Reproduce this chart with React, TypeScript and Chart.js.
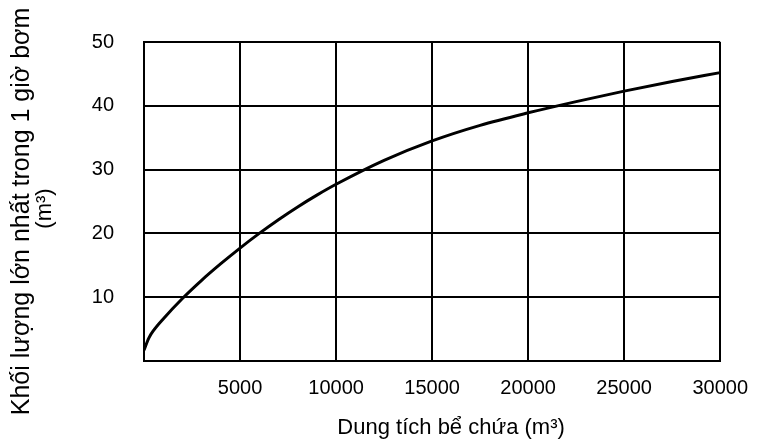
import React, { useEffect, useRef } from "react";
import { Chart, registerables } from "chart.js";

Chart.register(...registerables);

const capacity = [0, 250, 500, 1000, 2000, 3000, 4000, 5000, 6000, 7000, 8000, 9000, 10000, 12500, 15000, 17500, 20000, 22500, 25000, 27500, 30000];
const maxVolume = [1.7, 3.6, 4.8, 6.6, 9.8, 12.65, 15.25, 17.7, 20.0, 22.15, 24.15, 26.0, 27.7, 31.45, 34.5, 36.94, 38.9, 40.66, 42.3, 43.81, 45.2];
const xTitle = "Dung tích bể chứa (m³)";
const yTitleMain = "Khối lượng lớn nhất trong 1 giờ bơm";
const yTitleUnit = "(m³)";

const FONT = "'Liberation Sans', Arial, sans-serif";

const titlePlugin = {
  id: "titlePlugin",
  afterDraw(chart: any) {
    const ctx = chart.ctx;
    const area = chart.chartArea;
    ctx.save();
    ctx.fillStyle = "#000";
    ctx.textAlign = "center";
    ctx.textBaseline = "middle";
    ctx.font = `22px ${FONT}`;
    ctx.fillText(xTitle, (area.left + area.right) / 2 + 19, 428);
    const cy = (area.top + area.bottom) / 2 + 10;
    ctx.font = `25px ${FONT}`;
    ctx.save();
    ctx.translate(22, cy);
    ctx.rotate(-Math.PI / 2);
    ctx.fillText(yTitleMain, 0, 0);
    ctx.restore();
    ctx.font = `22px ${FONT}`;
    ctx.save();
    ctx.translate(45, cy - 3);
    ctx.rotate(-Math.PI / 2);
    ctx.fillText(yTitleUnit, 0, 0);
    ctx.restore();
    ctx.restore();
  },
};

export default function App() {
  const ref = useRef<HTMLCanvasElement | null>(null);
  useEffect(() => {
    if (!ref.current) return;
    const chart = new Chart(ref.current, {
      type: "line",
      data: {
        datasets: [
          {
            data: capacity.map((x, i) => ({ x, y: maxVolume[i] })),
            borderColor: "#000",
            borderWidth: 3,
            pointRadius: 0,
            cubicInterpolationMode: "monotone",
            fill: false,
          },
        ],
      },
      options: {
        animation: false,
        responsive: false,
        maintainAspectRatio: false,
        layout: { padding: { left: 0, right: 41, top: 39, bottom: 0 } },
        plugins: { legend: { display: false }, tooltip: { enabled: false } },
        scales: {
          x: {
            type: "linear",
            min: 0,
            max: 30000,
            afterFit: (s: any) => { s.height = 79; },
            border: { display: true, color: "#000", width: 2 },
            grid: { color: "#000", lineWidth: 2, drawTicks: false },
            ticks: {
              stepSize: 5000,
              padding: 15,
              color: "#000",
              font: { family: FONT, size: 20 },
              maxRotation: 0,
              callback: (v: any) => (v === 0 ? "" : String(v)),
            },
            title: { display: false },
          },
          y: {
            min: 0,
            max: 50,
            afterFit: (s: any) => { s.width = 144; },
            border: { display: true, color: "#000", width: 2 },
            grid: { color: "#000", lineWidth: 2, drawTicks: false },
            ticks: {
              stepSize: 10,
              padding: 30,
              color: "#000",
              font: { family: FONT, size: 20 },
              callback: (v: any) => (v === 0 ? "" : String(v)),
            },
            title: { display: false },
          },
        },
      },
      plugins: [titlePlugin],
    } as any);
    return () => chart.destroy();
  }, []);
  return (
    <div style={{ position: "fixed", left: 0, top: 0, width: 763, height: 440, background: "#fff" }}>
      <canvas ref={ref} width={763} height={440} style={{ width: 763, height: 440 }} />
    </div>
  );
}
